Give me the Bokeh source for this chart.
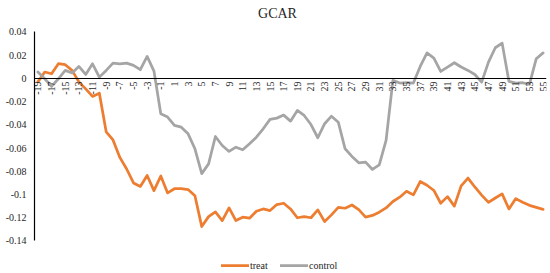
import math
from bokeh.plotting import figure
from bokeh.models import (Range1d, FixedTicker, Legend, LegendItem, Label)
from bokeh.embed import file_html
from bokeh.resources import INLINE

title_text = "GCAR"

days = [-19, -18, -17, -16, -15, -14, -13, -12, -11, -10, -9, -8, -7, -6, -5,
        -4, -3, -2, -1, 0, 1, 2, 3, 4, 5, 6, 7, 8, 9, 10, 11, 12, 13, 14, 15,
        16, 17, 18, 19, 20, 21, 22, 23, 24, 25, 26, 27, 28, 29, 30, 31, 32, 33,
        34, 35, 36, 37, 38, 39, 40, 41, 42, 43, 44, 45, 46, 47, 48, 49, 50, 51,
        52, 53, 54, 55]

treat = [-0.0030, 0.0055, 0.0040, 0.0127, 0.0118, 0.0069, -0.0030, -0.0090,
         -0.0155, -0.0127, -0.0460, -0.0530, -0.0680, -0.0780, -0.0900, -0.0930,
         -0.0836, -0.0966, -0.0840, -0.0986, -0.0950, -0.0950, -0.0957, -0.1010,
         -0.1276, -0.1190, -0.1150, -0.1224, -0.1115, -0.1224, -0.1195, -0.1204,
         -0.1144, -0.1124, -0.1138, -0.1086, -0.1075, -0.1124, -0.1200, -0.1190,
         -0.1200, -0.1132, -0.1233, -0.1175, -0.1110, -0.1118, -0.1090, -0.1130,
         -0.1195, -0.1180, -0.1152, -0.1115, -0.1060, -0.1023, -0.0972, -0.1003,
         -0.0888, -0.0920, -0.0965, -0.1075, -0.1018, -0.1100, -0.0925, -0.0858,
         -0.0935, -0.1005, -0.1068, -0.1030, -0.0994, -0.1124, -0.1035, -0.1066,
         -0.1093, -0.1110, -0.1128]

control = [0.0055, -0.0003, -0.0069, -0.0003, 0.0069, 0.0046, 0.0103, 0.0034,
           0.0126, 0.0011, 0.0069, 0.0132, 0.0126, 0.0132, 0.0112, 0.0075,
           0.0190, 0.0063, -0.0305, -0.0333, -0.0405, -0.0420, -0.0477, -0.0606,
           -0.0820, -0.0736, -0.0500, -0.0578, -0.0629, -0.0592, -0.0615, -0.0563,
           -0.0506, -0.0434, -0.0353, -0.0342, -0.0316, -0.0368, -0.0276, -0.0319,
           -0.0397, -0.0511, -0.0390, -0.0325, -0.0377, -0.0606, -0.0672, -0.0727,
           -0.0721, -0.0784, -0.0744, -0.0534, -0.0017, -0.0040, -0.0036, -0.0040,
           0.0103, 0.0220, 0.0175, 0.0060, 0.0098, 0.0135, 0.0098, 0.0069,
           0.0034, -0.0032, 0.0140, 0.0264, 0.0304, -0.0026, -0.0040, -0.0037,
           -0.0052, 0.0170, 0.0220]

x_ticks = [-19, -17, -15, -13, -11, -9, -7, -5, -3, -1, 1, 3, 5, 7, 9, 11, 13,
           15, 17, 19, 21, 23, 25, 27, 29, 31, 33, 35, 37, 39, 41, 43, 45, 47,
           49, 51, 53, 55]
x_tick_labels = ["-19", "-17", "-15", "-13", "-11", "-9", "-7", "-5", "-3", "-1",
                 "1", "3", "5", "7", "9", "11", "13", "15", "17", "19", "21",
                 "23", "25", "27", "29", "31", "33", "35", "37", "39", "41",
                 "43", "45", "47", "49", "51", "53", "55"]
y_ticks = [-0.14, -0.12, -0.1, -0.08, -0.06, -0.04, -0.02, 0, 0.02, 0.04]
y_tick_labels = ["-0.14", "-0.12", "-0.1", "-0.08", "-0.06", "-0.04", "-0.02",
                 "0", "0.02", "0.04"]

series_names = ["treat", "control"]
series_colors = ["#ED7D31", "#A5A5A5"]

FONT = "Liberation Serif"
TXT = "#262626"

# plot area spans the whole height so that title and legend (drawn inside
# it) are not clipped; the value axis itself is bounded to the tick range
p = figure(width=550, height=273,
           x_range=Range1d(-19.5, 55.5), y_range=Range1d(-0.168, 0.0671),
           output_backend="svg", toolbar_location=None,
           min_border_left=34, min_border_right=4,
           min_border_top=0, min_border_bottom=0)
p.title.visible = False
p.outline_line_color = None
p.xgrid.visible = False
p.ygrid.visible = False
p.background_fill_color = "white"
p.border_fill_color = "white"

renderers = []
for vals, col in zip([treat, control], series_colors):
    r = p.line(days, vals, line_color=col, line_width=2.75,
               line_join="round", line_cap="round")
    renderers.append(r)

# category axis sits on y = 0
xa = p.xaxis[0]
xa.fixed_location = 0
xa.ticker = FixedTicker(ticks=x_ticks)
xa.major_label_overrides = {t: s for t, s in zip(x_ticks, x_tick_labels)}
xa.major_label_orientation = math.pi / 2
xa.major_tick_in = 0
xa.major_tick_out = 0
xa.minor_tick_line_color = None
xa.axis_line_color = "black"
xa.axis_line_width = 1.2
xa.major_label_text_font = FONT
xa.major_label_text_font_size = "10px"
xa.major_label_text_color = TXT
xa.major_label_standoff = 3

ya = p.yaxis[0]
ya.ticker = FixedTicker(ticks=y_ticks)
ya.bounds = (min(y_ticks), max(y_ticks))
ya.major_label_overrides = {t: s for t, s in zip(y_ticks, y_tick_labels)}
ya.major_tick_in = 0
ya.major_tick_out = 0
ya.minor_tick_line_color = None
ya.axis_line_color = "black"
ya.axis_line_width = 1.2
ya.major_label_text_font = FONT
ya.major_label_text_font_size = "10px"
ya.major_label_text_color = TXT
ya.major_label_standoff = 8

title = Label(x=243, y=260.3, x_units="screen", y_units="screen",
              text=title_text, text_align="center", text_baseline="alphabetic",
              text_font=FONT, text_font_size="14px", text_color=TXT)
p.add_layout(title)

legend = Legend(items=[LegendItem(label=n, renderers=[r])
                       for n, r in zip(series_names, renderers)],
                location=(187, 2), orientation="horizontal",
                glyph_width=28, glyph_height=12, label_height=12,
                label_standoff=1, spacing=10, padding=0, margin=0,
                border_line_color=None, background_fill_alpha=0,
                label_text_font=FONT, label_text_font_size="10px",
                label_text_color=TXT)
p.add_layout(legend, "center")

open("out.html", "w").write(file_html(p, INLINE))
